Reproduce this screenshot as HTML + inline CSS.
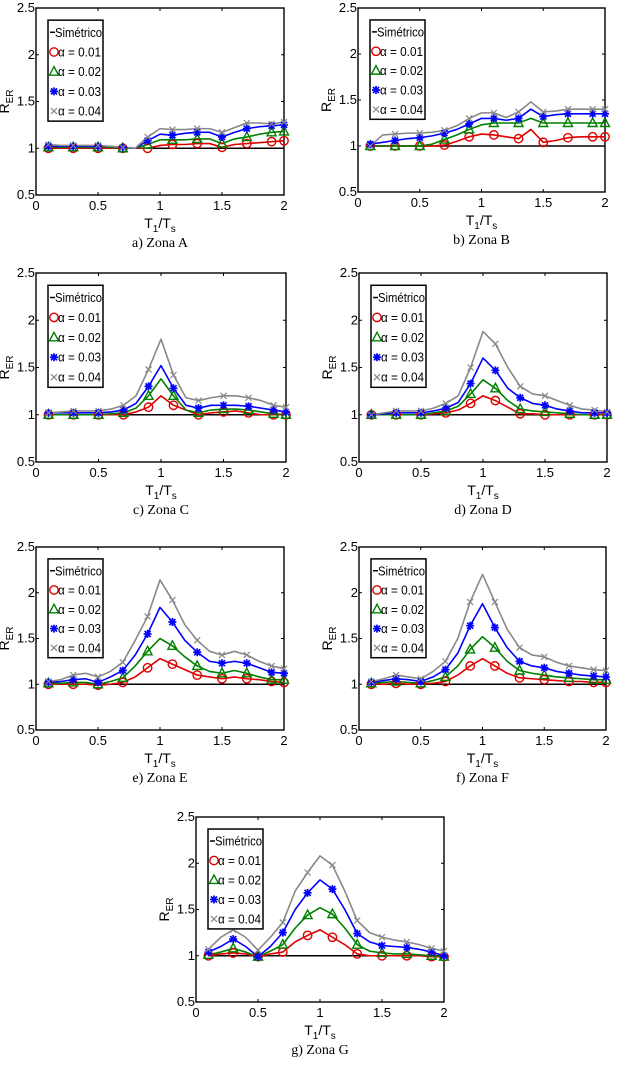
<!DOCTYPE html>
<html><head><meta charset="utf-8"><style>
body{margin:0;background:#fff;width:630px;height:1083px;overflow:hidden}
svg{display:block}
text{font-family:"Liberation Sans Narrow","Liberation Sans",sans-serif}
.cap{font-family:"Liberation Serif",serif;font-size:14px}
</style></head><body>
<svg id="chart" width="630" height="1083"></svg>
<script>
const xVals=[0.1,0.2,0.3,0.4,0.5,0.6,0.7,0.8,0.9,1.0,1.1,1.2,1.3,1.4,1.5,1.6,1.7,1.8,1.9,2.0];
const markerX=[0.1,0.3,0.5,0.7,0.9,1.1,1.3,1.5,1.7,1.9,2.0];
const xTicks=[0,0.5,1,1.5,2];
const yTicks=[0.5,1,1.5,2,2.5];
const legendLabels=["Simétrico","α = 0.01","α = 0.02","α = 0.03","α = 0.04"];
const captions=["a) Zona A","b) Zona B","c) Zona C","d) Zona D","e) Zona E","f) Zona F","g) Zona G"];
const zoneA=[[1.0,1.0,1.0,1.0,1.0,1.0,1.0,1.0,1.0,1.03,1.04,1.04,1.05,1.05,1.01,1.04,1.05,1.06,1.07,1.08],
[1.01,1.01,1.01,1.01,1.01,1.01,1.0,1.0,1.04,1.09,1.09,1.09,1.1,1.1,1.05,1.1,1.12,1.15,1.17,1.18],
[1.02,1.02,1.02,1.02,1.02,1.02,1.01,1.0,1.08,1.15,1.14,1.16,1.17,1.17,1.12,1.17,1.21,1.23,1.24,1.25],
[1.04,1.03,1.03,1.03,1.03,1.02,1.01,1.0,1.12,1.21,1.2,1.2,1.21,1.21,1.17,1.22,1.27,1.27,1.26,1.28]];
const zoneB=[[1.0,1.0,1.0,1.0,1.0,1.0,1.01,1.05,1.1,1.13,1.12,1.1,1.08,1.18,1.04,1.06,1.09,1.1,1.1,1.1],
[1.0,1.0,1.0,1.0,1.0,1.02,1.07,1.12,1.18,1.23,1.25,1.25,1.25,1.3,1.25,1.25,1.25,1.25,1.25,1.25],
[1.02,1.04,1.06,1.08,1.09,1.11,1.14,1.18,1.24,1.3,1.3,1.28,1.3,1.4,1.32,1.34,1.35,1.35,1.35,1.35],
[1.0,1.12,1.13,1.14,1.14,1.15,1.17,1.22,1.3,1.36,1.36,1.31,1.37,1.48,1.37,1.38,1.4,1.4,1.4,1.4]];
const zoneC=[[1.0,1.0,1.0,1.0,1.0,1.0,1.0,1.03,1.08,1.2,1.1,1.05,1.0,1.02,1.03,1.04,1.02,1.0,1.0,1.0],
[1.0,1.0,1.0,1.0,1.0,1.01,1.02,1.07,1.2,1.38,1.2,1.05,1.02,1.05,1.06,1.06,1.05,1.03,1.01,1.0],
[1.02,1.02,1.02,1.02,1.02,1.03,1.05,1.12,1.3,1.52,1.28,1.1,1.07,1.1,1.1,1.1,1.09,1.07,1.05,1.03],
[1.02,1.03,1.04,1.04,1.04,1.06,1.1,1.2,1.48,1.8,1.42,1.18,1.15,1.18,1.2,1.2,1.18,1.15,1.1,1.08]];
const zoneD=[[1.0,1.0,1.0,1.0,1.0,1.01,1.02,1.05,1.12,1.2,1.15,1.08,1.01,1.01,1.0,1.0,1.0,1.0,1.0,1.0],
[1.0,1.0,1.0,1.0,1.0,1.02,1.04,1.09,1.22,1.37,1.28,1.15,1.06,1.04,1.03,1.02,1.01,1.0,1.0,1.0],
[1.0,1.01,1.02,1.02,1.02,1.04,1.07,1.13,1.33,1.6,1.47,1.28,1.18,1.12,1.1,1.06,1.04,1.02,1.02,1.02],
[1.0,1.02,1.04,1.04,1.04,1.07,1.12,1.2,1.5,1.88,1.75,1.5,1.3,1.22,1.2,1.15,1.1,1.06,1.05,1.03]];
const zoneE=[[1.0,1.0,1.0,1.0,0.99,1.0,1.02,1.08,1.18,1.28,1.22,1.16,1.1,1.08,1.06,1.08,1.06,1.05,1.03,1.02],
[1.01,1.01,1.02,1.02,1.0,1.03,1.07,1.2,1.36,1.5,1.42,1.3,1.2,1.14,1.12,1.15,1.12,1.08,1.05,1.05],
[1.02,1.03,1.05,1.06,1.02,1.08,1.15,1.32,1.55,1.84,1.68,1.48,1.35,1.25,1.23,1.25,1.23,1.18,1.13,1.12],
[1.03,1.05,1.1,1.12,1.08,1.14,1.24,1.48,1.74,2.14,1.92,1.65,1.48,1.36,1.32,1.36,1.32,1.25,1.2,1.17]];
const zoneF=[[1.0,1.0,1.01,1.0,1.0,1.01,1.03,1.1,1.2,1.28,1.2,1.12,1.07,1.06,1.05,1.04,1.03,1.03,1.02,1.02],
[1.01,1.02,1.03,1.02,1.01,1.04,1.08,1.2,1.38,1.52,1.4,1.25,1.15,1.12,1.1,1.08,1.07,1.06,1.05,1.05],
[1.02,1.04,1.06,1.05,1.03,1.08,1.16,1.34,1.64,1.88,1.62,1.4,1.25,1.2,1.18,1.14,1.12,1.1,1.09,1.08],
[1.03,1.06,1.1,1.08,1.06,1.14,1.25,1.5,1.9,2.2,1.9,1.6,1.4,1.32,1.3,1.24,1.2,1.18,1.16,1.15]];
const zoneG=[[1.0,1.02,1.03,1.02,0.99,1.02,1.04,1.15,1.22,1.28,1.2,1.12,1.02,1.0,1.0,1.0,1.0,1.0,0.99,0.99],
[1.01,1.04,1.08,1.04,0.99,1.05,1.12,1.3,1.44,1.52,1.45,1.3,1.12,1.05,1.03,1.02,1.02,1.01,1.0,0.99],
[1.04,1.1,1.18,1.1,0.99,1.1,1.25,1.5,1.68,1.82,1.72,1.5,1.24,1.15,1.11,1.1,1.09,1.07,1.04,1.0],
[1.07,1.2,1.28,1.2,1.06,1.2,1.36,1.7,1.9,2.08,1.98,1.7,1.38,1.25,1.2,1.17,1.15,1.12,1.08,1.05]];
const zones=[zoneA,zoneB,zoneC,zoneD,zoneE,zoneF,zoneG];
const boxes=[[36,8,284,195],[358,8,605,192],[36,273,286,462],[359,273,607,462],[36,547,284,730],[359,547,606,730],[196,817,444,1002]];
const colors=["#e00000","#008000","#0000ff","#888888"];
const NS="http://www.w3.org/2000/svg";
const svg=document.getElementById('chart');
function mk(tag,attrs,parent){const e=document.createElementNS(NS,tag);for(const k in attrs)e.setAttribute(k,attrs[k]);(parent||svg).appendChild(e);return e;}
function marker(g,type,cx,cy,c){
  let m;
  if(type===0){m=mk('circle',{cx:cx,cy:cy,r:4.2,fill:'none',stroke:c,'stroke-width':1.4},g);}
  else if(type===1){m=mk('polygon',{points:`${cx},${cy-5} ${cx-4.5},${cy+3.5} ${cx+4.5},${cy+3.5}`,fill:'none',stroke:c,'stroke-width':1.4},g);}
  else if(type===2){m=mk('path',{d:`M${cx-4},${cy}H${cx+4}M${cx},${cy-4}V${cy+4}M${cx-3},${cy-3}L${cx+3},${cy+3}M${cx-3},${cy+3}L${cx+3},${cy-3}`,stroke:c,'stroke-width':1.7},g);}
  else {m=mk('path',{d:`M${cx-3},${cy-3}L${cx+3},${cy+3}M${cx-3},${cy+3}L${cx+3},${cy-3}`,stroke:c,'stroke-width':1.2},g);}
  
  
}
zones.forEach((z,p)=>{
  const [L,T,R,B]=boxes[p];
  const g=mk('g',{});
  
  
  const sx=v=>L+(v-0)/(2-0)*(R-L);
  const sy=v=>B-(v-0.5)/(2.5-0.5)*(B-T);
  const frame=mk('rect',{x:L,y:T,width:R-L,height:B-T,fill:'none',stroke:'#000','stroke-width':1.4},g);
  
  
  yTicks.forEach(v=>{
    mk('path',{d:`M${L},${sy(v)}h3M${R},${sy(v)}h-3`,stroke:'#000'},g);
    const t=mk('text',{x:L-1,y:sy(v)+4,'text-anchor':'end','font-size':13},g);t.textContent=v;
    
    
  });
  xTicks.forEach(v=>{
    mk('path',{d:`M${sx(v)},${B}v-3M${sx(v)},${T}v3`,stroke:'#000'},g);
    const t=mk('text',{x:sx(v),y:B+15,'text-anchor':'middle','font-size':13},g);t.textContent=v;
    
    
  });
  const xl=mk('text',{x:(L+R)/2,y:B+33,'text-anchor':'middle','font-size':14},g);
  xl.innerHTML='T<tspan font-size="10" dy="4">1</tspan><tspan dy="-4">/T</tspan><tspan font-size="10" dy="4">s</tspan>';
  
  
  const yl=mk('text',{transform:`translate(${L-27},${(T+B)/2}) rotate(-90)`,'text-anchor':'middle','font-size':14},g);
  yl.innerHTML='R<tspan font-size="10" dy="4">ER</tspan>';
  
  
  const cap=mk('text',{x:(L+R)/2,y:B+52,'text-anchor':'middle',class:'cap'},g);cap.textContent=captions[p];
  
  
  const base=mk('line',{x1:sx(0.1),x2:sx(2),y1:sy(1),y2:sy(1),stroke:'#000','stroke-width':1.5},g);
  
  
  z.forEach((s,k)=>{
    const pl=mk('polyline',{points:s.map((v,i)=>sx(xVals[i])+','+sy(v)).join(' '),fill:'none',stroke:colors[k],'stroke-width':1.6,'stroke-linejoin':'round'},g);
    
    
  });
  z.forEach((s,k)=>{
    markerX.forEach(mx=>{const i=xVals.findIndex(x=>Math.abs(x-mx)<1e-6);marker(g,k,sx(mx),sy(s[i]),colors[k]);});
  });
  const lg=mk('g',{},g);
  
  
  const lx=L+12,ly=T+(B-T)*0.065,lh=(B-T)*0.54;
  mk('rect',{x:lx,y:ly,width:55,height:lh,fill:'#fff',stroke:'#000','stroke-width':1.5},lg);
  legendLabels.forEach((lab,i)=>{
    const yy=ly+lh*(0.12+i*0.195);
    if(i===0) mk('line',{x1:lx+2,x2:lx+7,y1:yy,y2:yy,stroke:'#000','stroke-width':1.5},lg);
    else marker(lg,i-1,lx+6,yy,colors[i-1]);
    const t=mk('text',{x:lx+(i===0?7:10),y:yy+4.5,'font-size':13,textLength:i===0?47:43,lengthAdjust:'spacingAndGlyphs'},lg);t.textContent=lab;
    
    
  });
});
</script>
</body></html>
